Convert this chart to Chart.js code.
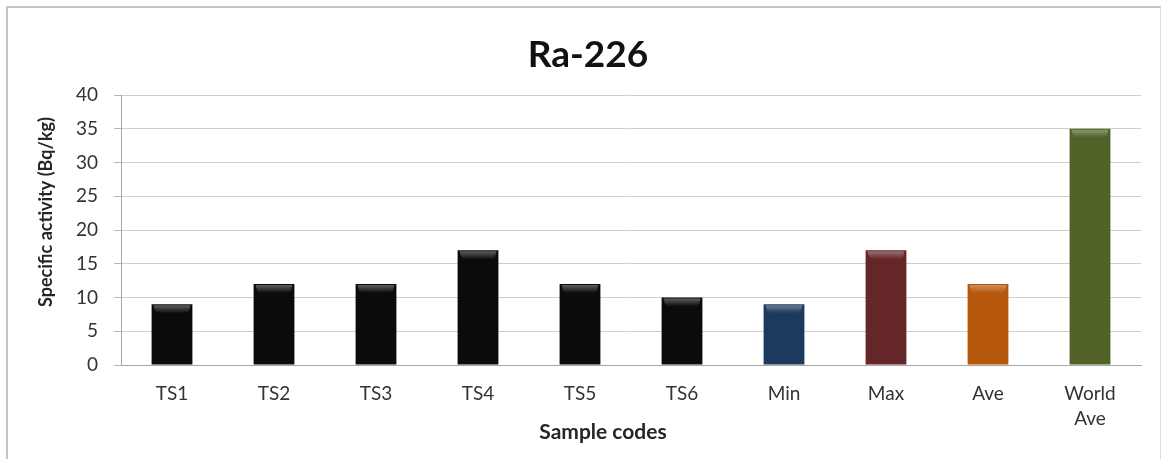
<!DOCTYPE html>
<html>
<head>
<meta charset="utf-8">
<script src="https://cdn.jsdelivr.net/npm/chart.js@4/dist/chart.umd.min.js"></script>
<style>
  html, body { margin: 0; padding: 0; background: #ffffff; overflow: hidden; }
  #frame {
    position: absolute; left: 6px; top: 6px; width: 1152px; height: 480px;
    border-top: 2px solid #c4c4c4; border-left: 2px solid #c4c4c4; border-right: 1px solid #dcdcdc;
  }
  #wrap { position: absolute; left: 0; top: 0; width: 1162px; height: 459px; }
</style>
</head>
<body>
<div id="frame"></div>
<div id="wrap"><canvas id="chart" width="1162" height="459"></canvas></div>
<script>
// Ra-226 specific activity per sample, with summary bars
const chartTitle = 'Ra-226';
const categories = ['TS1', 'TS2', 'TS3', 'TS4', 'TS5', 'TS6', 'Min', 'Max', 'Ave', ['World', 'Ave']];
const activity = [9, 12, 12, 17, 12, 10, 9, 17, 12, 35];
const barColors = ['#0b0b0b', '#0b0b0b', '#0b0b0b', '#0b0b0b', '#0b0b0b', '#0b0b0b',
                   '#1c3a5e', '#652628', '#b5580c', '#506227'];
const yTicks = [0, 5, 10, 15, 20, 25, 30, 35, 40];

const FONT = 'Lato, "Open Sans", sans-serif';

function shade(hex, amt) {
  const n = parseInt(hex.slice(1), 16);
  let r = (n >> 16) & 255, g = (n >> 8) & 255, b = n & 255;
  const f = c => Math.max(0, Math.min(255, Math.round(amt >= 0 ? c + (255 - c) * amt : c * (1 + amt))));
  return 'rgb(' + f(r) + ',' + f(g) + ',' + f(b) + ')';
}

// Rounded "glassy" cap drawn over the top of each bar, plus title and axis titles
const decor = {
  id: 'decor',
  afterDatasetsDraw(chart) {
    const ctx = chart.ctx;
    const meta = chart.getDatasetMeta(0);
    meta.data.forEach((bar, i) => {
      const base = barColors[i];
      const w = bar.width, x0 = bar.x - w / 2, top = bar.y;
      ctx.save();
      const g = ctx.createLinearGradient(0, top, 0, top + 9);
      g.addColorStop(0, shade(base, 0.38));
      g.addColorStop(1, shade(base, 0));
      ctx.fillStyle = g;
      ctx.beginPath();
      ctx.moveTo(x0 + 2, top + 1);
      ctx.lineTo(x0 + w - 2, top + 1);
      ctx.quadraticCurveTo(x0 + w - 3, top + 8, x0 + w - 6, top + 9);
      ctx.lineTo(x0 + 6, top + 9);
      ctx.quadraticCurveTo(x0 + 3, top + 8, x0 + 2, top + 1);
      ctx.fill();
      ctx.restore();
    });
  },
  afterDraw(chart) {
    const ctx = chart.ctx;
    ctx.save();
    ctx.textAlign = 'center';
    ctx.textBaseline = 'middle';
    ctx.fillStyle = '#111111';
    ctx.font = 'bold 37px ' + FONT;
    ctx.fillText(chartTitle, 588, 55);
    ctx.fillStyle = '#262626';
    ctx.font = 'bold 21px ' + FONT;
    ctx.fillText('Sample codes', 603, 432);
    ctx.font = 'bold 18px ' + FONT;
    ctx.translate(46, 212);
    ctx.rotate(-Math.PI / 2);
    ctx.fillText('Specific activity (Bq/kg)', 0, 0);
    ctx.restore();
  }
};

new Chart(document.getElementById('chart'), {
  type: 'bar',
  data: {
    labels: categories,
    datasets: [{
      data: activity,
      backgroundColor: ctx => {
        const c = ctx.chart.ctx;
        const el = ctx.element;
        const base = barColors[ctx.dataIndex];
        if (!el || !el.width) return base;
        const x0 = el.x - el.width / 2;
        const g = c.createLinearGradient(x0, 0, x0 + el.width, 0);
        g.addColorStop(0, shade(base, -0.35));
        g.addColorStop(0.12, shade(base, 0.05));
        g.addColorStop(0.5, base);
        g.addColorStop(0.88, shade(base, 0.02));
        g.addColorStop(1, shade(base, -0.35));
        return g;
      },
      borderWidth: 0,
      barPercentage: 0.8,
      categoryPercentage: 0.5
    }]
  },
  options: {
    responsive: false,
    animation: false,
    layout: { padding: { left: 0, right: 21, top: 95, bottom: 0 } },
    plugins: {
      legend: { display: false },
      tooltip: { enabled: false },
      title: { display: false }
    },
    scales: {
      x: {
        grid: { display: false },
        border: { display: true, color: '#a6a6a6', width: 1 },
        ticks: {
          color: '#333333',
          font: { family: FONT, size: 19, lineHeight: 1.3 },
          padding: 9,
          maxRotation: 0,
          autoSkip: false
        },
        afterFit(scale) { scale.height = 94; }
      },
      y: {
        min: 0,
        max: 40,
        afterBuildTicks(scale) { scale.ticks = yTicks.map(v => ({ value: v })); },
        grid: { color: '#cfcfcf', lineWidth: 1, tickLength: 7, tickColor: '#b5b5b5' },
        border: { display: true, color: '#a6a6a6', width: 1 },
        ticks: {
          color: '#333333',
          font: { family: FONT, size: 19 },
          padding: 16
        },
        afterFit(scale) { scale.width = 121; }
      }
    }
  },
  plugins: [decor]
});
</script>
</body>
</html>
